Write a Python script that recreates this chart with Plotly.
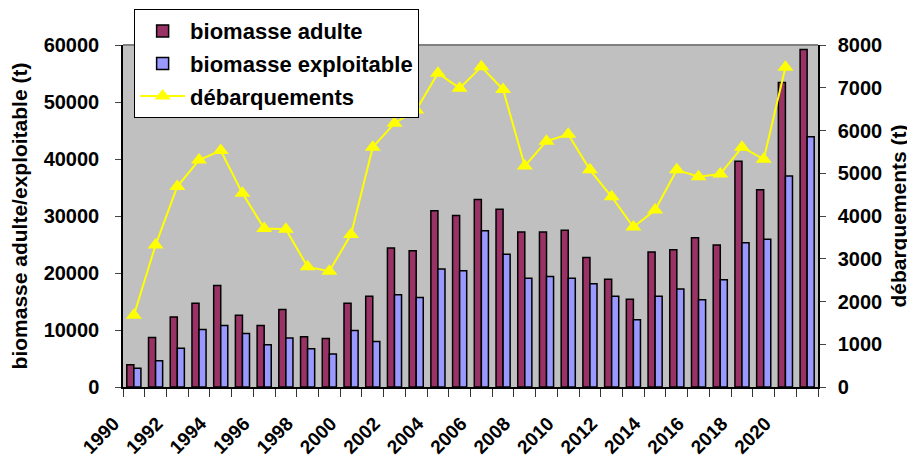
import plotly.graph_objects as go

years = list(range(1990, 2022))
biomasse_adulte = [3900, 8700, 12300, 14700, 17800, 12600, 10800, 13600, 8800, 8500,
                   14700, 15900, 24400, 23900, 30900, 30100, 32900, 31200, 27200, 27200,
                   27500, 22700, 18900, 15400, 23700, 24100, 26200, 24900, 39600, 34600,
                   53400, 59200]
biomasse_exploitable = [3300, 4600, 6800, 10100, 10800, 9400, 7400, 8600, 6700, 5800,
                        9900, 8000, 16200, 15700, 20700, 20400, 27400, 23300, 19100, 19400,
                        19100, 18100, 15900, 11800, 15900, 17200, 15300, 18800, 25300, 25900,
                        37000, 43900]
debarquements = [1680, 3320, 4690, 5310, 5530, 4530, 3710, 3690, 2810, 2710,
                 3570, 5610, 6170, 6480, 7340, 6990, 7490, 6960, 5170, 5750,
                 5910, 5080, 4450, 3740, 4140, 5080, 4920, 4980, 5610, 5330,
                 7480, None]
tick_years = list(range(1990, 2021, 2))

FONT = "Liberation Sans, Arial, sans-serif"

fig = go.Figure()
fig.add_trace(go.Bar(x=years, y=biomasse_adulte, name="biomasse adulte",
                     marker=dict(color="#993366", line=dict(color="black", width=1.5)),
                     legendgroup="a"))
fig.add_trace(go.Bar(x=years, y=biomasse_exploitable, name="biomasse exploitable",
                     marker=dict(color="#9999FF", line=dict(color="black", width=1.5)),
                     legendgroup="b"))
fig.add_trace(go.Scatter(x=years, y=debarquements, name="débarquements", yaxis="y2",
                         mode="lines+markers", connectgaps=False,
                         line=dict(color="#FFFF00", width=2),
                         marker=dict(symbol="triangle-up", size=14, color="#FFFF00"),
                         legendgroup="c"))

fig.update_layout(
    width=907, height=449,
    margin=dict(l=115, r=97, t=37, b=70, autoexpand=False),
    paper_bgcolor="white", plot_bgcolor="#C0C0C0",
    font=dict(family=FONT, size=19, color="black", weight="bold"),
    barmode="group", bargap=0.35, bargroupgap=0,
    showlegend=True,
    legend=dict(x=0.016, y=1.105, xanchor="left", yanchor="top",
                bgcolor="white", bordercolor="black", borderwidth=1,
                font=dict(family=FONT, size=22, color="black", weight="bold"),
                traceorder="grouped", tracegroupgap=1, itemwidth=45),
    xaxis=dict(range=[1989.5, 2021.5], tickmode="array", tickvals=tick_years,
               ticktext=[str(y) for y in tick_years], tickangle=-45,
               ticks="", showline=True, linecolor="black", linewidth=2,
               showgrid=False, zeroline=False, automargin=False,
               ticklabelstandoff=16, ticklabelshift=-20,
               tickfont=dict(family=FONT, size=19, weight="bold"),
               minor=dict(tickmode="array",
                          tickvals=[y - 0.5 for y in years] + [years[-1] + 0.5],
                          ticks="outside", ticklen=8, tickcolor="#333", tickwidth=1,
                          showgrid=False)),
    yaxis=dict(range=[0, 60000], dtick=10000, ticks="outside", ticklen=6,
               showline=True, linecolor="black", linewidth=1.5, showgrid=False,
               zeroline=False, tickformat="d", automargin=False,
               ticklabelstandoff=12,
               tickfont=dict(family=FONT, size=20, weight="bold"),
               title=dict(text="biomasse adulte/exploitable (t)", standoff=10,
                          font=dict(family=FONT, size=21, weight="bold"))),
    yaxis2=dict(range=[0, 8000], dtick=1000, ticks="outside", ticklen=6,
                overlaying="y", side="right", automargin=False,
                ticklabelstandoff=8,
                showline=True, linecolor="black", linewidth=1.5, showgrid=False,
                zeroline=False, tickformat="d",
                tickfont=dict(family=FONT, size=20, weight="bold"),
                title=dict(text="débarquements (t)", standoff=10,
                           font=dict(family=FONT, size=21, weight="bold"))),
    shapes=[dict(type="line", xref="paper", yref="paper", x0=0, x1=1, y0=1, y1=1,
                 line=dict(color="#808080", width=2))],
)

fig.write_html("out.html")
